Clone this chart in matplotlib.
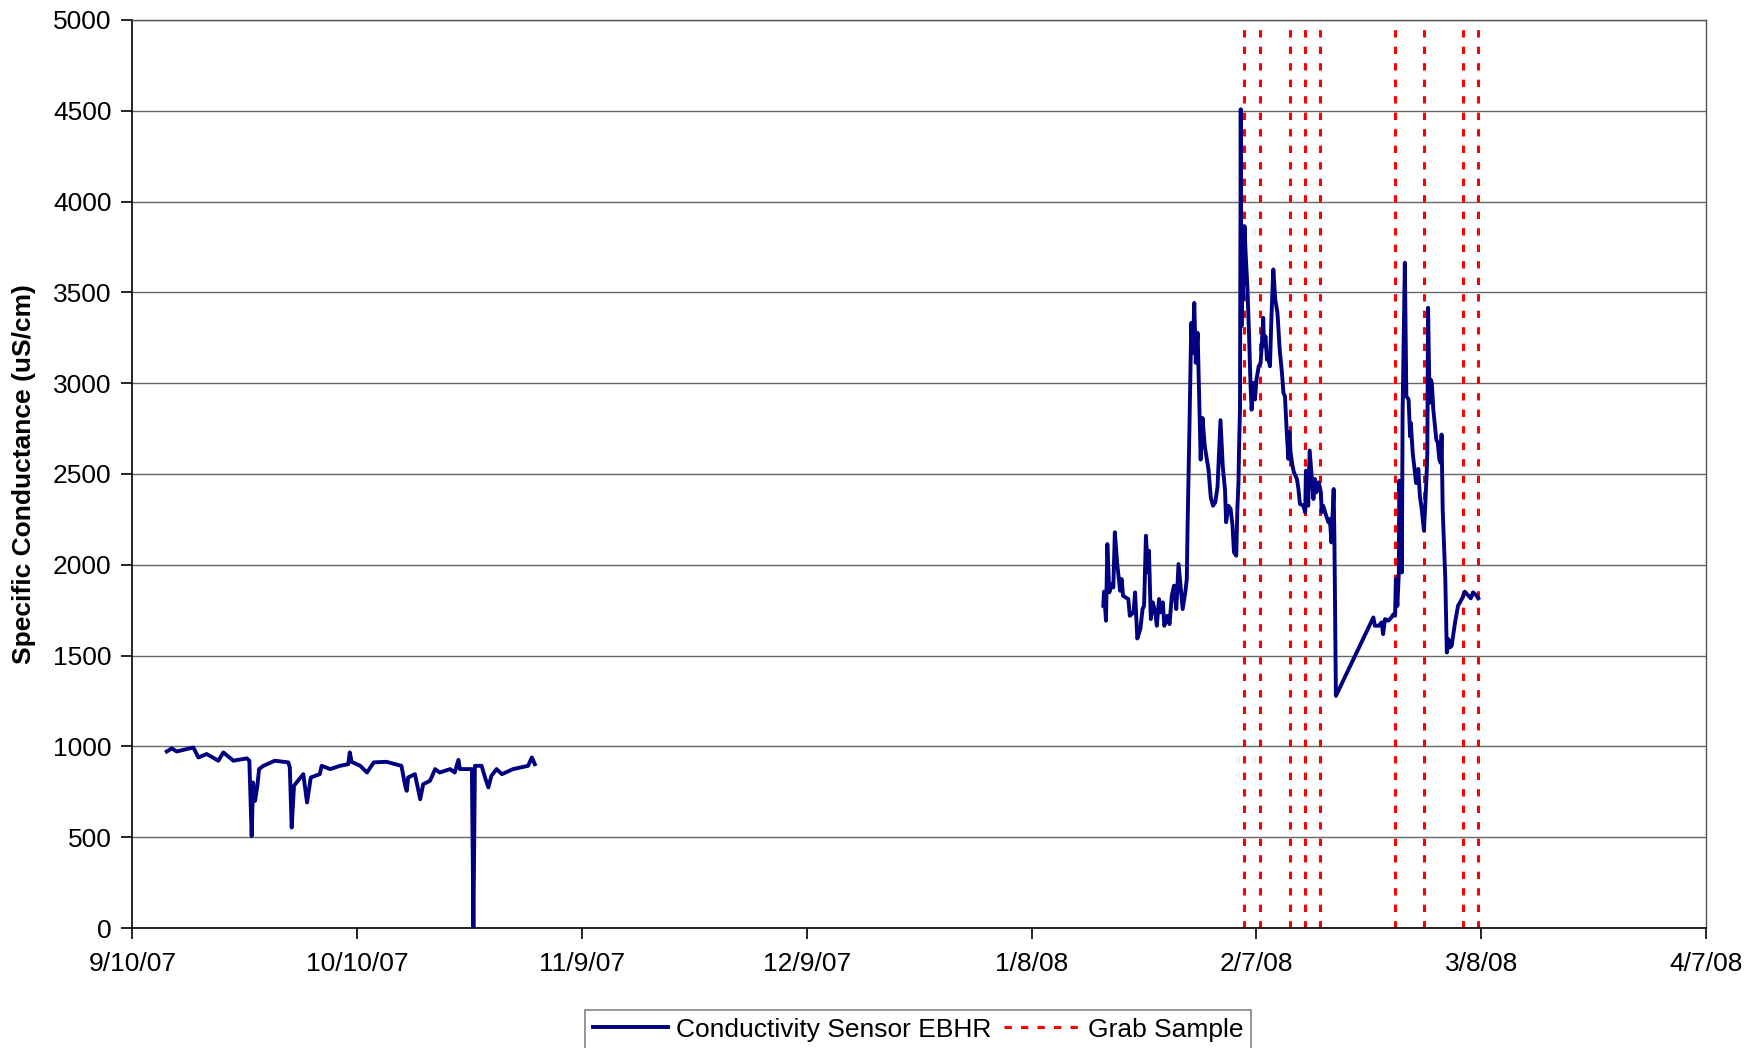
import matplotlib
matplotlib.use('Agg')
import matplotlib.pyplot as plt
import matplotlib.dates as mdates
import numpy as np


START = np.datetime64('2007-09-10T00:00')

# sensor record, days after 9/10/07 and specific conductance (uS/cm)
fall_days = [4.58, 5.24, 5.91, 8.13, 8.8, 9.9, 11.47, 12.13, 13.47, 15.25, 15.6,
             15.91, 16.1, 16.36, 16.67, 16.9, 17.47, 19.0, 20.8, 21.0, 21.25,
             21.56, 21.9, 22.8, 23.3, 23.8, 25.0, 25.25, 26.4, 27.7, 28.8, 29.0,
             29.25, 30.4, 31.3, 32.2, 33.9, 35.9, 36.4, 36.6, 36.8, 37.7, 38.4,
             38.8, 39.7, 40.4, 41.0, 42.4, 43.0, 43.5, 43.7, 45.3, 45.5, 45.7,
             46.6, 47.05, 47.5, 47.9, 48.6, 49.3, 50.8, 52.8, 53.3, 53.7]
fall_cond = [972, 989, 972, 994, 939, 958, 921, 967, 921, 934, 921,
             506, 801, 700, 783, 875, 893, 921, 912, 884, 553,
             783, 801, 847, 691, 829, 847, 893, 875, 893, 902, 967,
             915, 893, 856, 912, 915, 893, 783, 755, 829, 847, 709,
             792, 810, 875, 856, 875, 856, 926, 875, 875, 0, 893,
             893, 829, 774, 838, 875, 847, 875, 893, 939, 902]

winter_days = [129.56, 129.65, 129.92, 130.1, 130.36, 130.7, 130.9, 131.1, 131.4,
               131.8, 132.0, 132.2, 132.9, 133.1, 133.6, 133.8, 134.1, 134.5,
               134.8, 135.0, 135.25, 135.5, 135.65, 135.9, 136.15, 136.5, 136.7,
               137.0, 137.2, 137.5, 137.7, 138.1, 138.4, 138.7, 139.0, 139.3,
               139.6, 139.8, 140.15, 140.5, 140.7, 140.8, 141.05, 141.3, 141.5,
               141.7, 141.9, 142.15, 142.4, 142.55, 142.8, 143.1, 143.6, 143.9,
               144.2, 144.5, 144.8, 145.2, 145.5, 145.8, 145.95, 146.25, 146.55,
               146.8, 147.0, 147.3, 147.45, 147.6, 147.7, 147.8, 147.9, 148.0,
               148.15, 148.2, 148.4, 148.55, 148.8, 149.0, 149.2, 149.35, 149.6,
               149.8, 150.0, 150.3, 150.55, 150.7, 150.9, 151.0, 151.2, 151.4,
               151.6, 151.8, 152.0, 152.25, 152.5, 152.8, 153.1, 153.4, 153.6,
               153.8, 154.0, 154.25, 154.4, 154.55, 154.8, 155.0, 155.4, 155.6,
               155.8, 156.25, 156.5, 156.6, 156.8, 156.9, 157.1, 157.4, 157.6,
               157.8, 158.0, 158.3, 158.6, 158.7, 158.9, 159.3, 159.6, 159.8,
               160.0, 160.3, 160.4, 160.6, 165.6, 165.8, 166.3, 166.7, 166.9,
               167.15, 167.6, 168.0, 168.3, 168.5, 168.6, 168.8, 169.0, 169.05,
               169.2, 169.4, 169.5, 169.8, 170.0, 170.3, 170.5, 170.6, 170.85,
               171.05, 171.3, 171.6, 171.8, 172.05, 172.35, 172.5, 172.7, 172.8,
               172.9, 173.1, 173.25, 173.4, 173.6, 174.0, 174.2, 174.4, 174.6,
               174.7, 174.85, 175.2, 175.4, 175.6, 175.8, 176.05, 176.5, 176.9,
               177.4, 177.8, 178.3, 178.6, 178.9, 179.3, 179.6]
winter_cond = [1774, 1852, 1692, 2114, 1848, 1894, 1875, 2179, 2013,
               1857, 1921, 1829, 1811, 1719, 1738, 1848, 1594, 1646,
               1756, 1774, 2160, 1958, 2077, 1701, 1793, 1738, 1664,
               1811, 1738, 1793, 1664, 1719, 1673, 1829, 1885, 1756,
               2004, 1912, 1756, 1848, 1921, 2197, 2744, 3332, 3167,
               3442, 3112, 3277, 2836, 2579, 2808, 2652, 2524, 2371,
               2325, 2344, 2427, 2796, 2542, 2413, 2234, 2325, 2307,
               2215, 2068, 2050, 2307, 2454, 2689, 2854, 4508, 3314,
               3718, 3461, 3865, 3718, 3516, 3277, 3001, 2854, 3001,
               2910, 3020, 3093, 3112, 3203, 3360, 3203, 3258, 3130,
               3130, 3093, 3369, 3626, 3461, 3387, 3185, 3056, 2946,
               2928, 2763, 2583, 2730, 2619, 2546, 2509, 2472, 2417,
               2335, 2325, 2289, 2518, 2472, 2325, 2629, 2472, 2362,
               2472, 2399, 2454, 2399, 2289, 2325, 2270, 2234, 2252,
               2123, 2417, 2142, 1278, 1710, 1664, 1664, 1683, 1618,
               1701, 1692, 1710, 1728, 1719, 1921, 1774, 1958, 2463,
               2344, 1958, 2840, 3663, 2928, 2910, 2707, 2781, 2616,
               2542, 2450, 2528, 2381, 2307, 2188, 2307, 2491, 2619,
               3415, 2891, 3020, 3001, 2854, 2689, 2671, 2579, 2560,
               2717, 2307, 1921, 1517, 1591, 1545, 1554, 1683, 1774,
               1811, 1852, 1829, 1815, 1848, 1833, 1815]

# grab sample times, days after 9/10/07
grab_days = [148.4, 150.5, 154.5, 156.5, 158.5, 168.5, 172.4, 177.5, 179.5]

tick_days = [0, 30, 60, 90, 120, 150, 180, 210]


def to_dates(days):
    return START + (np.asarray(days) * 24 * 60).astype('timedelta64[m]')


if __name__ == '__main__':
    plt.rcParams['font.family'] = ['Liberation Sans', 'DejaVu Sans']

    fig = plt.figure(figsize=(17.45, 10.48), dpi=100)
    ax = fig.add_axes([0.0759, 0.1145, 0.9018, 0.8665])

    sensor_color = '#000080'
    ax.plot(to_dates(fall_days), fall_cond, color=sensor_color, lw=2.8,
            label='Conductivity Sensor EBHR', zorder=3)
    ax.plot(to_dates(winter_days), winter_cond, color=sensor_color, lw=2.8, zorder=3)

    for i, d in enumerate(to_dates(grab_days)):
        ax.axvline(d, color='red', lw=2.2, dashes=(2.4, 3.0),
                   label='Grab Sample' if i == 0 else None, zorder=2)

    ax.set_ylim(0, 5000)
    ax.set_yticks(np.arange(0, 5001, 500))
    ax.set_xlim(to_dates([0])[0], to_dates([210])[0])
    ax.set_xticks(to_dates(tick_days))
    ax.xaxis.set_major_formatter(mdates.DateFormatter('%-m/%-d/%y'))

    ax.yaxis.grid(True, color='#666666', lw=1)
    ax.set_axisbelow(True)
    for side in ['top', 'right']:
        ax.spines[side].set_color('#555555')
        ax.spines[side].set_linewidth(1)
    for side in ['left', 'bottom']:
        ax.spines[side].set_color('black')
        ax.spines[side].set_linewidth(1.2)

    ax.tick_params(axis='both', labelsize=19, length=8, width=1.2, direction='out')
    ax.tick_params(axis='y', pad=7)
    ax.tick_params(axis='x', pad=9)
    ax.set_ylabel('Specific Conductance (uS/cm)', fontsize=19, fontweight='bold',
                  labelpad=12)

    leg = ax.legend(loc='upper center', bbox_to_anchor=(0.526, 0.0365),
                    bbox_transform=fig.transFigure, borderaxespad=0,
                    ncol=2, fontsize=19,
                    frameon=True, fancybox=False, handlelength=2.85,
                    handletextpad=0.3, columnspacing=0.5, borderpad=0.3)
    leg.get_frame().set_edgecolor('#666666')
    leg.get_frame().set_linewidth(1.2)

    fig.savefig('out.png', dpi=100)
